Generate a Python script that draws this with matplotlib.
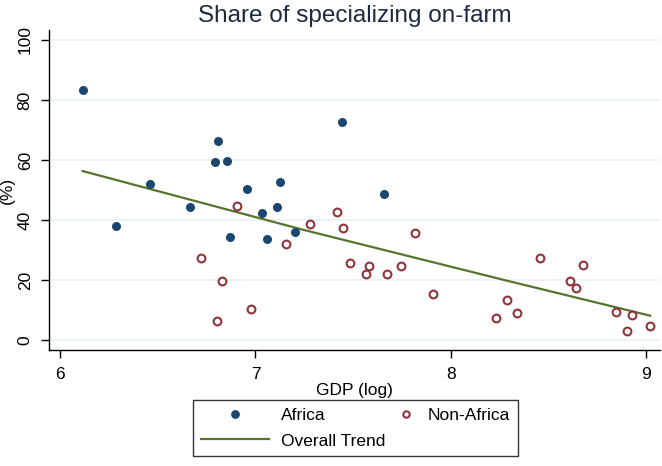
import matplotlib
matplotlib.use('Agg')
import matplotlib.pyplot as plt
from matplotlib.legend_handler import HandlerLine2D
from matplotlib.lines import Line2D

plt.rcParams['font.family'] = ['Liberation Sans', 'DejaVu Sans']

# Africa (filled markers)
africa_gdp = [6.115, 6.283, 6.459, 6.664, 6.794, 6.809, 6.854, 6.872, 6.957, 7.032,
              7.060, 7.110, 7.123, 7.201, 7.445, 7.659]
africa_share = [83.2, 38.1, 52.1, 44.2, 59.3, 66.3, 59.8, 34.3, 50.3, 42.2,
                33.6, 44.2, 52.8, 36.1, 72.5, 48.6]

# Non-Africa (hollow markers)
nonafrica_gdp = [6.720, 6.803, 6.831, 6.904, 6.976, 7.157, 7.278, 7.415, 7.449, 7.486,
                 7.564, 7.583, 7.672, 7.746, 7.819, 7.910, 8.234, 8.286, 8.340, 8.457,
                 8.609, 8.641, 8.678, 8.847, 8.903, 8.931, 9.022]
nonafrica_share = [27.2, 6.2, 19.8, 44.5, 10.3, 32.0, 38.5, 42.7, 37.2, 25.5,
                   21.9, 24.7, 22.0, 24.8, 35.6, 15.5, 7.2, 13.3, 9.1, 27.3,
                   19.6, 17.3, 24.9, 9.4, 2.9, 8.3, 4.8]

# overall trend
trend_gdp = [6.115, 7.24, 8.28, 9.022]
trend_share = [56.3, 36.8, 19.9, 8.1]

navy = '#1a476f'
maroon = '#90353b'
green = '#55752f'
grid_color = '#eaf2f3'


class HandlerMarkerRight(HandlerLine2D):
    # single marker drawn at the middle of xdata -> shift it close to the label
    def get_xdata(self, legend, xdescent, ydescent, width, height, fontsize):
        pos = -xdescent + width - 6.5
        return [pos - 1, pos + 1], [pos]


fig = plt.figure(figsize=(6.62, 4.66), dpi=100)
ax = fig.add_axes([0.0745, 0.2489, 0.9225, 0.6867])

ax.plot(africa_gdp, africa_share, linestyle='none', marker='o', markersize=6.5,
        color=navy, markeredgewidth=0, zorder=3)
ax.plot(nonafrica_gdp, nonafrica_share, linestyle='none', marker='o', markersize=5.6,
        markerfacecolor='white', markeredgecolor=maroon, markeredgewidth=1.5, zorder=3)
ax.plot(trend_gdp, trend_share, color=green, linewidth=1.6, zorder=2)

ax.set_xlim(5.944, 9.072)
ax.set_ylim(-3.33, 103.3)
ax.set_xticks([6, 7, 8, 9])
ax.set_yticks([0, 20, 40, 60, 80, 100])
ax.tick_params(axis='both', labelsize=12.5, length=6, width=1, direction='out', pad=6)
for lbl in ax.get_yticklabels():
    lbl.set_rotation(90)
    lbl.set_va('center')

ax.yaxis.grid(True, color=grid_color, linewidth=1.3)
ax.set_axisbelow(True)
for side in ['top', 'right']:
    ax.spines[side].set_visible(False)
for side in ['left', 'bottom']:
    ax.spines[side].set_linewidth(1)

ax.set_xlabel('GDP (log)', fontsize=12.5, labelpad=1)
ax.set_ylabel('(%)', fontsize=12.5, labelpad=2)
ax.set_title('Share of specializing on-farm', fontsize=17.5, color='#1e2a40', pad=6)

h_africa = Line2D([], [], linestyle='none', marker='o', markersize=6.3, color=navy,
                  markeredgewidth=0)
h_non = Line2D([], [], linestyle='none', marker='o', markersize=4.6, markerfacecolor='white',
               markeredgecolor=maroon, markeredgewidth=1.5)
h_trend = Line2D([], [], color=green, linewidth=1.6)

leg = fig.legend([h_africa, h_trend, h_non], ['Africa', 'Overall Trend', 'Non-Africa'],
                 ncol=2, loc='lower center', bbox_to_anchor=(0.537, 0.002),
                 fontsize=12.5, frameon=True, fancybox=False, edgecolor='black',
                 handlelength=3.9, handletextpad=0.72, columnspacing=-2.2,
                 labelspacing=0.62, borderpad=0.45,
                 handler_map={h_non: HandlerMarkerRight()})
leg.get_frame().set_linewidth(1)

fig.savefig('out.png', dpi=100)
